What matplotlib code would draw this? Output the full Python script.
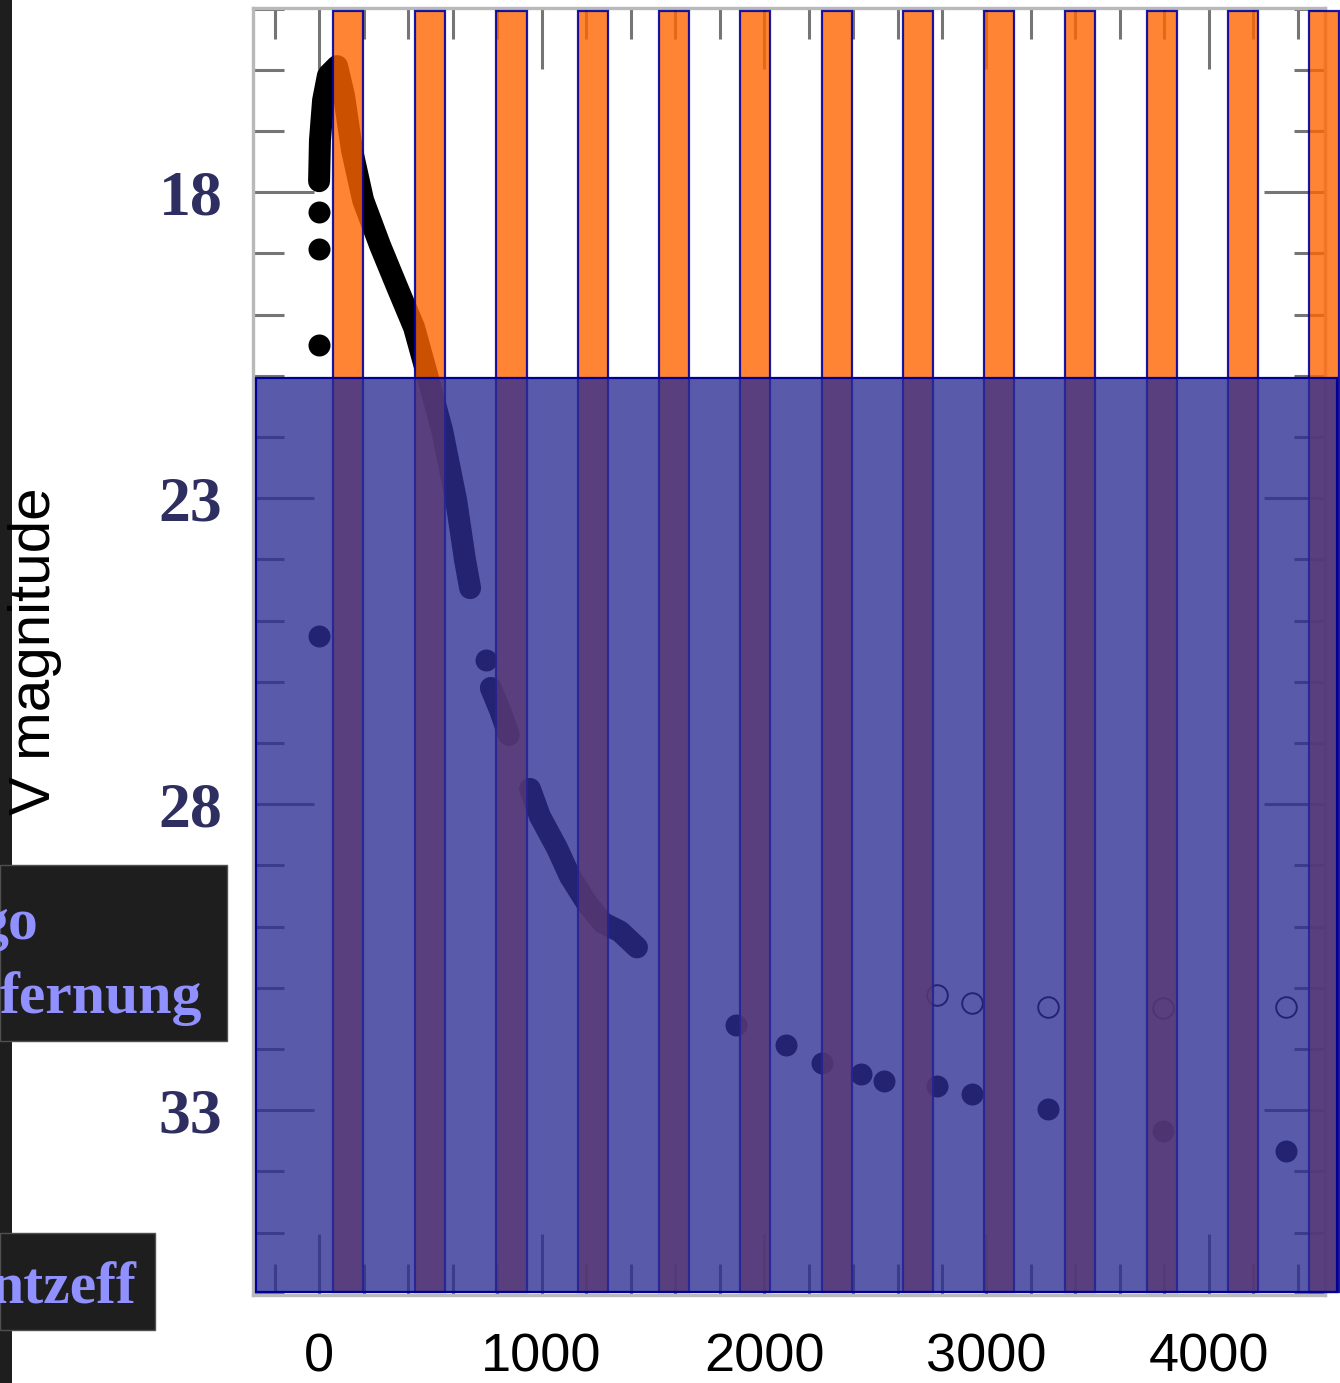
import numpy as np
import matplotlib.pyplot as plt
from matplotlib.patches import Rectangle

# light curve, dense part (days after outburst, V magnitude)
curve1_day = [0, 4, 18, 40, 81, 112, 148, 198, 274, 351, 427, 490, 553, 616, 656, 679]
curve1_mag = [17.82, 17.15, 16.50, 16.09, 15.94, 16.42, 17.31, 18.13, 18.87, 19.55, 20.21,
              21.04, 21.89, 23.03, 24.01, 24.47]

curve2_day = [772, 813, 853]
curve2_mag = [26.10, 26.46, 26.87]

curve3_day = [948, 993, 1070, 1128, 1204, 1276, 1353, 1429]
curve3_mag = [27.75, 28.20, 28.72, 29.18, 29.62, 29.94, 30.08, 30.34]

# single observations
single_day = [0, 0, 0, 0, 751, 1874, 2099, 2261, 2436, 2539, 2777, 2935, 3276, 3793, 4346]
single_mag = [18.33, 18.93, 20.50, 25.25, 25.65, 31.61, 31.94, 32.23, 32.41, 32.53,
              32.61, 32.74, 32.98, 33.34, 33.67]

open_day = [2777, 2935, 3276, 3793, 4346]
open_mag = [31.12, 31.25, 31.32, 31.33, 31.32]

# yearly orange bands
band_center = [130, 499, 865, 1231, 1596, 1960, 2328, 2690, 3058, 3420, 3789, 4153, 4517]
band_width = 135
band_top = 15.04
band_bottom = 35.97

# blue overlay box (days, mag)
box_left, box_right = -283, 4575
box_top, box_bottom = 21.04, 35.97

y_major = [18, 23, 28, 33]
x_major = [0, 1000, 2000, 3000, 4000]

W, H = 1340, 1383
fig = plt.figure(figsize=(W / 100, H / 100), dpi=100)
ax = fig.add_axes([253 / W, 88 / H, 1087 / W, 1287 / H])

lw_pt = 22 / 1.389
for d, m in [(curve1_day, curve1_mag), (curve2_day, curve2_mag), (curve3_day, curve3_mag)]:
    ax.plot(d, m, color='black', lw=lw_pt, solid_capstyle='round',
            solid_joinstyle='round', zorder=2)
ax.plot(single_day, single_mag, 'o', color='black', ms=lw_pt, mew=0, zorder=2)
ax.plot(open_day, open_mag, 'o', mfc='none', mec='black', ms=lw_pt - 1, mew=1.4, zorder=2)

ax.bar(band_center, band_top - band_bottom, bottom=band_bottom, width=band_width,
       color=(1.0, 0.4, 0.0, 0.8), edgecolor=(0.0, 0.0, 0.63, 0.9), linewidth=1.6, zorder=3)

ax.add_patch(Rectangle((box_left, box_top), box_right - box_left, box_bottom - box_top,
                       facecolor=(45 / 255, 45 / 255, 147 / 255, 0.785),
                       edgecolor=(0.0, 0.0, 0.6), linewidth=1.6, zorder=4))

ax.set_xlim(-297, 4589)
ax.set_ylim(36.02, 14.99)
ax.set_axisbelow(True)

for s in ['left', 'top', 'bottom', 'right']:
    ax.spines[s].set_color('#b9b9b9')
    ax.spines[s].set_linewidth(2.4)
ax.spines['right'].set_position(('data', 4520))
ax.spines['top'].set_bounds(-297, 4520)
ax.spines['bottom'].set_bounds(-297, 4520)

ax.set_yticks(y_major)
ax.set_yticks(np.arange(15, 37), minor=True)
ax.set_xticks(x_major)
ax.set_xticks(np.arange(-200, 4600, 200), minor=True)

ax.tick_params(which='both', direction='in', left=True, right=True, top=True, bottom=True,
               color='#757575', width=2.2)
ax.tick_params(which='major', length=44)
ax.tick_params(which='minor', length=22)
ax.tick_params(axis='y', pad=22)
ax.tick_params(axis='x', pad=27)

for lab in ax.get_yticklabels():
    lab.set_fontfamily('Liberation Serif')
    lab.set_fontweight('bold')
    lab.set_fontsize(46)
    lab.set_color('#2e2e60')
for lab in ax.get_xticklabels():
    lab.set_fontfamily('Liberation Sans')
    lab.set_fontsize(39)
    lab.set_color('black')

fig.text(35 / W, 1 - 651 / H, 'V magnitude', rotation=90, ha='center', va='center',
         fontsize=42, family='Liberation Sans', color='black')

# dark slide elements on the left
dark = '#1e1e1e'
fig.add_artist(Rectangle((0, 0), 12 / W, 1, transform=fig.transFigure,
                         facecolor=dark, edgecolor='none'))
fig.add_artist(Rectangle((0, 1 - 1041 / H), 227 / W, 176 / H, transform=fig.transFigure,
                         facecolor=dark, edgecolor='#505050', linewidth=1))
fig.add_artist(Rectangle((0, 1 - 1330 / H), 155 / W, 97 / H, transform=fig.transFigure,
                         facecolor=dark, edgecolor='#505050', linewidth=1))

txt = dict(family='Liberation Serif', weight='bold', fontsize=43, color='#9090ff',
           ha='right', va='baseline')
fig.text(38 / W, 1 - 939 / H, 'go', **txt)
fig.text(202 / W, 1 - 1013 / H, 'fernung', **txt)
fig.text(136 / W, 1 - 1304 / H, 'ntzeff', **txt)

fig.savefig('out.png', dpi=100)
